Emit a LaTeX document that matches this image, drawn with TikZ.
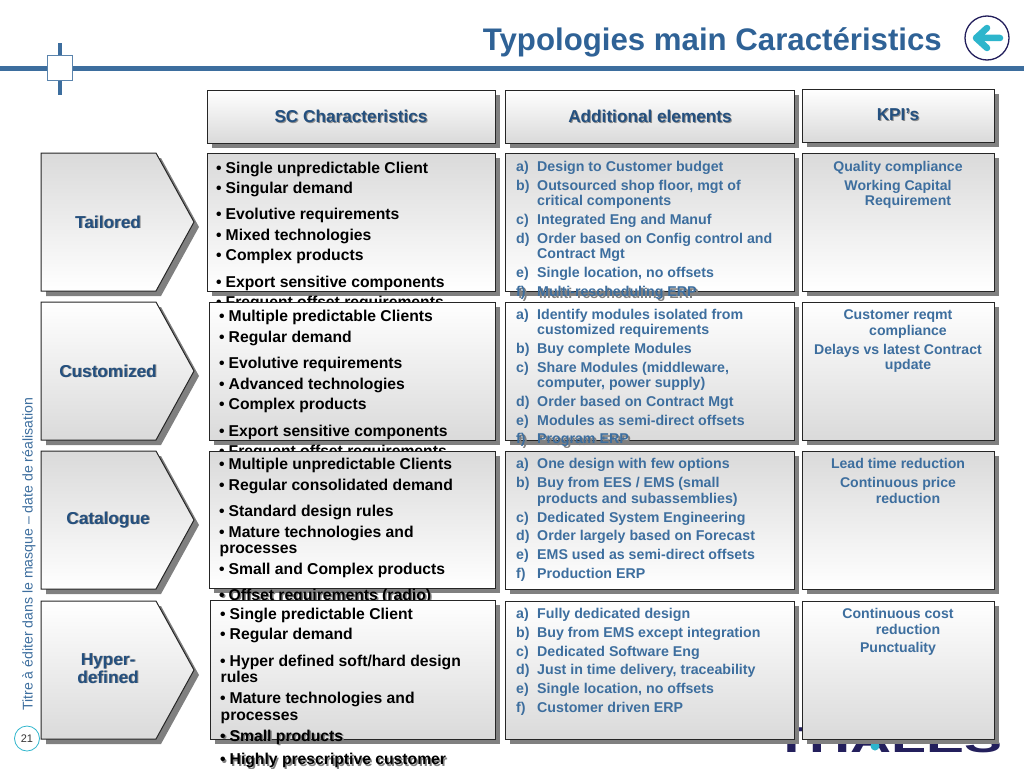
\documentclass[tikz,border=0pt]{standalone}
\usepackage{fontspec}
\setmainfont{Liberation Sans}
\definecolor{tblue}{HTML}{2F6296}
\definecolor{cblue}{HTML}{3D6E9E}
\definecolor{hdark}{HTML}{24507F}
\definecolor{gtop}{HTML}{DADADA}
\definecolor{shad}{HTML}{808080}
\definecolor{navy}{HTML}{231F5C}
\definecolor{cyanb}{HTML}{2DB5CC}
\tikzset{
 panel/.style={draw=black!85,line width=.9pt,inner sep=0pt,outer sep=0pt,anchor=north west},
 downfade/.style={top color=gtop,bottom color=white},
 upfade/.style={top color=white,bottom color=gtop},
 blk/.style={anchor=base west,inner sep=0pt,font=\bfseries\fontsize{15.7}{17}\selectfont,text=black},
 blu/.style={anchor=base west,inner sep=0pt,font=\bfseries\fontsize{14.2}{15}\selectfont,text=cblue},
 kpi/.style={anchor=base,inner sep=0pt,font=\bfseries\fontsize{14.1}{15}\selectfont,text=cblue},
 hd/.style={inner sep=0pt,font=\bfseries\fontsize{17.2}{18}\selectfont,text=hdark},
 ghost/.style={blk,text=shad},
}
\newcommand{\headtext}[3]{%
 \node[hd,text=black!45] at ([shift={(1,1)}]#1) {#3};
 \node[hd] (#2) at (#1) {#3};}
\newcommand{\rowbox}[6]{% name x y w h style
 \fill[shad] (#2+5,#3+5) rectangle ++(#4,#5);
 \node[panel,#6,minimum width=#4pt,minimum height=#5pt] (#1) at (#2,#3) {};}
\newcommand{\chev}[6]{% name y h style label-y text
 \fill[shad] (46,#2+5) -- (161,#2+5) -- (199,#2+5+#3/2) -- (161,#2+5+#3) -- (46,#2+5+#3) -- cycle;
 \draw[black!85,line width=1pt,#4] (41,#2) -- (156,#2) -- (194,#2+#3/2) -- (156,#2+#3) -- (41,#2+#3) -- cycle;
 \node[hd,text=black!45,align=center] at (109,#5) {#6};
 \node[hd,align=center] (#1) at (108,#5) {#6};}
\newcommand{\itm}[4]{% name x y text
 \node[blk] (#1) at (#2,#3) {•\hspace{4pt}#4};}
\newcommand{\itmg}[4]{% name x y text (overflowing, with text shadow)
 \node[ghost] at (#2+1.5,#3+1.5) {•\hspace{4pt}#4};
 \node[blk] (#1) at (#2,#3) {•\hspace{4pt}#4};}
\newcommand{\lett}[5]{% name letter y-first text
 \node[blu] (#1l) at (516,#3) {#2)};
 \node[blu] (#1) at (537,#3) {#4};}
\begin{document}
\begin{tikzpicture}[x=1pt,y=-1pt]
\useasboundingbox (0,0) rectangle (1024,768);
% header
\fill[cblue] (0,66) rectangle (1024,70.5);
\fill[cblue] (58.3,43) rectangle (61.5,95);
\node[draw=cblue!85,line width=.8pt,fill=white,minimum size=25pt,inner sep=0pt] (sq) at (59.5,67.5) {};
\node[inner sep=0pt,anchor=base east,font=\bfseries\fontsize{31.2}{32}\selectfont,text=tblue] (title) at (942,51) {Typologies main Caractéristics};
\node[circle,draw=navy,line width=1.3pt,fill=white,minimum size=44pt,inner sep=0pt] (back) at (987,38) {};
\draw[cyanb,line width=6.5pt,line cap=round,line join=round] (1000,38) -- (976,38) (987,28) -- (976,38) -- (987,48);
% side
\node[rotate=90,anchor=base west,inner sep=0pt,font=\fontsize{14.1}{15}\selectfont,text=cblue] (side) at (32.5,711) {Titre à éditer dans le masque – date de réalisation};
\node[circle,draw=cyanb,line width=.8pt,fill=white,minimum size=25pt,inner sep=0pt,font=\fontsize{11}{12}\selectfont,text=black!80] (pg) at (27,738.5) {21};
% logo
\node[inner sep=0pt,font=\bfseries\fontsize{36}{36}\selectfont,text=navy,xscale=1.58,anchor=base] (logo) at (888.5,752) {THALES};
\fill[cyanb] (875,746) circle (4.5);
% headers
\rowbox{h1}{207}{90}{288}{53}{upfade}
\rowbox{h2}{505}{90}{289}{53}{upfade}
\rowbox{h3}{802}{89}{192}{53}{upfade}
\headtext{351,116}{h1t}{SC Characteristics}
\headtext{650,116}{h2t}{Additional elements}
\headtext{898,115}{h3t}{KPI’s}
% row 1
\chev{c1}{153}{138}{downfade}{222}{Tailored}
\rowbox{a1}{207}{153}{288}{138}{downfade}
\itm{a1a}{216}{173}{Single unpredictable Client}
\itm{a1b}{216}{193}{Singular demand}
\itm{a1c}{216}{219}{Evolutive requirements}
\itm{a1d}{216}{240}{Mixed technologies}
\itm{a1e}{216}{260}{Complex products}
\itm{a1f}{216}{287}{Export sensitive components}
\itm{a1g}{216}{307}{Frequent offset requirements}
\rowbox{b1}{505}{153}{289}{138}{downfade}
\lett{b1a}{a}{171}{Design to Customer budget}{}
\lett{b1b}{b}{190}{Outsourced shop floor, mgt of}{}
\node[blu] (b1b2) at (537,205) {critical components};
\lett{b1c}{c}{224}{Integrated Eng and Manuf}{}
\lett{b1d}{d}{243}{Order based on Config control and}{}
\node[blu] (b1d2) at (537,258) {Contract Mgt};
\lett{b1e}{e}{277}{Single location, no offsets}{}
\rowbox{k1}{802}{153}{192}{138}{downfade}
\node[kpi] (k1a) at (898,171) {Quality compliance};
\node[kpi] (k1b) at (898,190) {Working Capital};
\node[kpi] (k1c) at (908,205) {Requirement};
% overflow text of b1
\node[blu,text=shad] at (518,298) {f)};
\node[blu,text=shad] at (539,298) {Multi-rescheduling ERP};
\lett{b1f}{f}{296}{Multi-rescheduling ERP}{}
% row 2
\chev{c2}{302}{138}{upfade}{371}{Customized}
\rowbox{a2}{209}{302}{286}{138}{upfade}
\itm{a2a}{219}{321}{Multiple predictable Clients}
\itm{a2b}{219}{342}{Regular demand}
\itm{a2c}{219}{368}{Evolutive requirements}
\itm{a2d}{219}{389}{Advanced technologies}
\itm{a2e}{219}{409}{Complex products}
\itm{a2f}{219}{436}{Export sensitive components}
\itm{a2g}{219}{456}{Frequent offset requirements}
\rowbox{b2}{505}{302}{289}{138}{upfade}
\lett{b2a}{a}{319}{Identify modules isolated from}{}
\node[blu] (b2a2) at (537,334) {customized requirements};
\lett{b2b}{b}{353}{Buy complete Modules}{}
\lett{b2c}{c}{372}{Share Modules (middleware,}{}
\node[blu] (b2c2) at (537,387) {computer, power supply)};
\lett{b2d}{d}{406}{Order based on Contract Mgt}{}
\lett{b2e}{e}{425}{Modules as semi-direct offsets}{}
\rowbox{k2}{802}{302}{192}{138}{upfade}
\node[kpi] (k2a) at (898,319) {Customer reqmt};
\node[kpi] (k2b) at (908,335) {compliance};
\node[kpi] (k2c) at (898,354) {Delays vs latest Contract};
\node[kpi] (k2d) at (908,369) {update};
\node[blu,text=shad] at (518,445) {f)};
\node[blu,text=shad] at (539,445) {Program ERP};
\lett{b2f}{f}{443}{Program ERP}{}
% row 3
\chev{c3}{451}{138}{downfade}{520}{Catalogue}
\rowbox{a3}{209}{451}{286}{137}{downfade}
\itm{a3a}{219}{469}{Multiple unpredictable Clients}
\itm{a3b}{219}{490}{Regular consolidated demand}
\itm{a3c}{219}{516}{Standard design rules}
\itm{a3d}{219}{537}{Mature technologies and}
\node[blk] (a3d2) at (219.5,553) {processes};
\itm{a3e}{219}{574}{Small and Complex products}
\rowbox{b3}{505}{451}{289}{138}{downfade}
\lett{b3a}{a}{468}{One design with few options}{}
\lett{b3b}{b}{487}{Buy from EES / EMS (small}{}
\node[blu] (b3b2) at (537,503) {products and subassemblies)};
\lett{b3c}{c}{522}{Dedicated System Engineering}{}
\lett{b3d}{d}{540}{Order largely based on Forecast}{}
\lett{b3e}{e}{559}{EMS used as semi-direct offsets}{}
\lett{b3f}{f}{578}{Production ERP}{}
\rowbox{k3}{802}{451}{192}{138}{downfade}
\node[kpi] (k3a) at (898,468) {Lead time reduction};
\node[kpi] (k3b) at (898,487) {Continuous price};
\node[kpi] (k3c) at (908,503) {reduction};
\itmg{a3f}{219}{600}{Offset requirements (radio)}
% row 4
\chev{c4}{601}{138}{upfade}{669}{Hyper-\\defined}
\rowbox{a4}{210}{600}{285}{139}{upfade}
\itm{a4a}{220}{619}{Single predictable Client}
\itm{a4b}{220}{639}{Regular demand}
\itm{a4c}{220}{666}{Hyper defined soft/hard design}
\node[blk] (a4c2) at (220.5,682) {rules};
\itm{a4d}{220}{703}{Mature technologies and}
\node[blk] (a4d2) at (220.5,720) {processes};
\itmg{a4e}{220}{741}{Small products}
\itmg{a4f}{220}{764.5}{Highly prescriptive customer}
\rowbox{b4}{505}{601}{289}{138}{upfade}
\lett{b4a}{a}{618}{Fully dedicated design}{}
\lett{b4b}{b}{637}{Buy from EMS except integration}{}
\lett{b4c}{c}{656}{Dedicated Software Eng}{}
\lett{b4d}{d}{674}{Just in time delivery, traceability}{}
\lett{b4e}{e}{693}{Single location, no offsets}{}
\lett{b4f}{f}{712}{Customer driven ERP}{}
\rowbox{k4}{802}{601}{192}{138}{upfade}
\node[kpi] (k4a) at (898,618) {Continuous cost};
\node[kpi] (k4b) at (908,634) {reduction};
\node[kpi] (k4c) at (898,652) {Punctuality};
\end{tikzpicture}
\end{document}
